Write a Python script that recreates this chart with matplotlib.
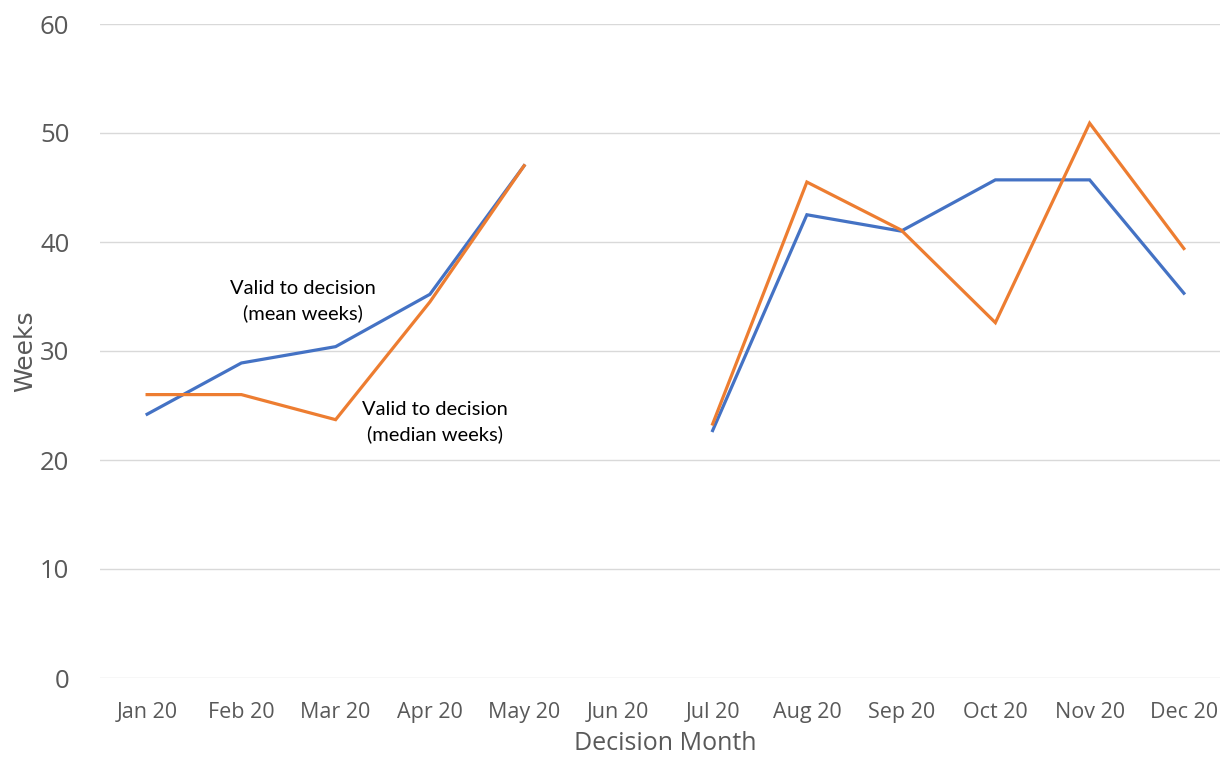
import numpy as np
import matplotlib
matplotlib.use("Agg")
from matplotlib import pyplot as plt

months = ["Jan 20", "Feb 20", "Mar 20", "Apr 20", "May 20", "Jun 20",
          "Jul 20", "Aug 20", "Sep 20", "Oct 20", "Nov 20", "Dec 20"]
meanWeeks = [24.2, 28.9, 30.4, 35.2, 47.0, np.nan, 22.7, 42.5, 41.0, 45.7, 45.7, 35.3]
medianWeeks = [26.0, 26.0, 23.7, 34.5, 47.0, np.nan, 23.3, 45.5, 41.1, 32.6, 50.9, 39.4]

blue = "#4472C4"
orange = "#ED7D31"
grey = "#595959"

plt.rcParams['font.family'] = ['Open Sans', 'DejaVu Sans']

fig = plt.figure(figsize=(12.2, 7.57), dpi=100)
ax = fig.add_axes([100 / 1220, 79 / 757, 1131 / 1220, 654 / 757])

x = np.arange(len(months))
ax.plot(x, meanWeeks, color=blue, lw=2.3, solid_joinstyle="miter")
ax.plot(x, medianWeeks, color=orange, lw=2.3, solid_joinstyle="miter")

ax.set_xlim(-0.5, len(months) - 0.5)
ax.set_ylim(0, 60)
ax.set_yticks(range(0, 61, 10))
ax.set_xticks(x)
ax.set_xticklabels(months)
ax.grid(axis="y", color="#D9D9D9", lw=1)
ax.set_axisbelow(True)
for s in ax.spines.values():
    s.set_visible(False)
ax.tick_params(length=0, colors=grey)
ax.tick_params(axis="y", labelsize=18.5, pad=22)
ax.tick_params(axis="x", labelsize=15.5, pad=17)

ax.set_xlabel("Decision Month", fontsize=18, color=grey, labelpad=6)
ax.set_ylabel("Weeks", fontsize=18, color=grey, family="Liberation Sans Narrow", labelpad=2)

ax.text(1.65, 34.6, "Valid to decision\n(mean weeks)", ha="center", va="center",
        fontsize=14.5, family="Lato", color="black", linespacing=1.45)
ax.text(3.05, 23.5, "Valid to decision\n(median weeks)", ha="center", va="center",
        fontsize=14.5, family="Lato", color="black", linespacing=1.45)

fig.savefig("out.png", dpi=100)
